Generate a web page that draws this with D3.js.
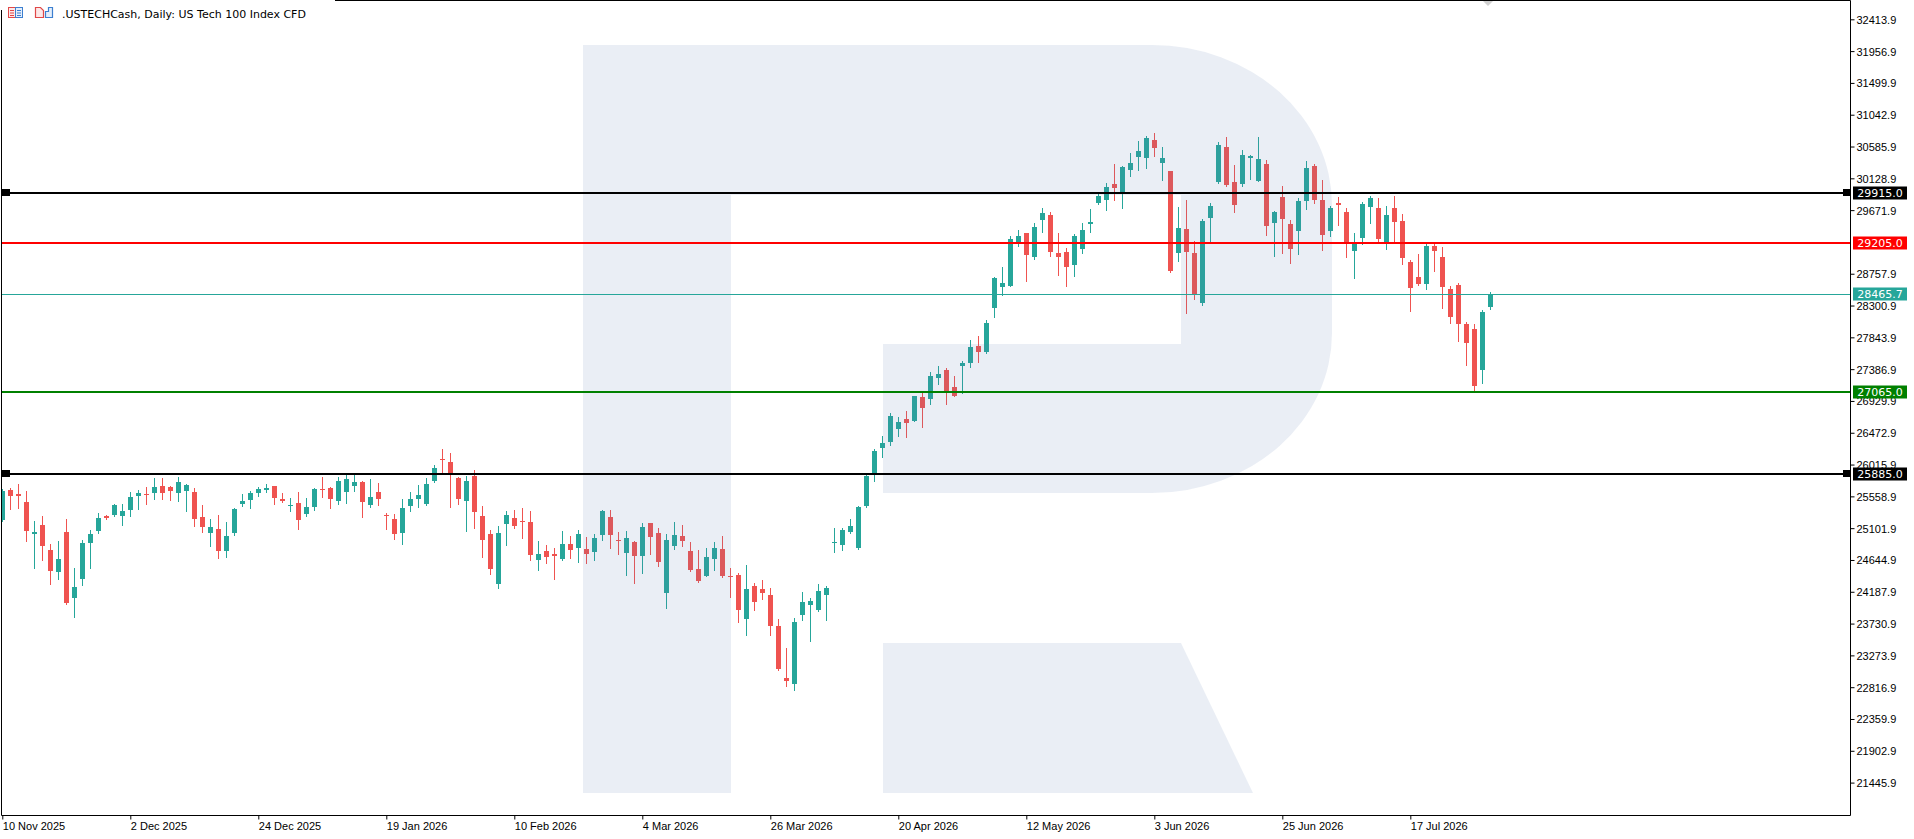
<!DOCTYPE html>
<html>
<head>
<meta charset="utf-8">
<script src="https://d3js.org/d3.v7.min.js"></script>
<style>
  html, body { margin: 0; padding: 0; background: #fff; overflow: hidden; }
  svg { display: block; font-family: "DejaVu Sans", sans-serif; }
  .axis text { font-size: 11px; fill: #000; }
  .axis line { stroke: #000; }
  .level-label { font-size: 11px; fill: #fff; }
  .chart-title { font-size: 11px; fill: #000; }
</style>
</head>
<body>
<svg id="chart"></svg>
<script>
// daily bars, oldest first (bar 0 sits under the left frame)
const opens = [
  25224, 25652, 25595, 25481, 25014, 25152, 24781, 24472, 25053, 24101,
  24372, 24886, 25057, 25281, 25286, 25271, 25357, 25571, 25595, 25614,
  25709, 25695, 25614, 25643, 25624, 25267, 25029, 25095, 24772, 25029,
  25443, 25510, 25610, 25657, 25710, 25524, 25424, 25467, 25300, 25400,
  25667, 25681, 25495, 25624, 25710, 25767, 25438, 25624, 25295, 25238,
  25038, 25424, 25524, 25452, 25781, 26095, 26052, 25824, 25495, 25852,
  25281, 25024, 24296, 25167, 25253, 25210, 25196, 24639, 24767, 24724,
  24653, 24881, 24824, 24796, 24753, 25010, 25267, 24939, 24739, 24896,
  24696, 25181, 25038, 24168, 24839, 24996, 24767, 24510, 24410, 24653,
  24796, 24410, 24425, 23796, 24268, 24224, 24139, 23696, 22954, 22868,
  23853, 23996, 23924, 24139, 24886, 24867, 25053, 24824, 25424, 25895,
  26252, 26338, 26523, 26666, 26637, 26980, 26951, 27265, 27379, 27137,
  27437, 27480, 27722, 27637, 28265, 28565, 28579, 29207, 29350, 28993,
  29535, 29607, 29050, 29064, 28879, 29107, 29478, 29778, 29821, 30049,
  29921, 30249, 30435, 30420, 30677, 30349, 30235, 29050, 29407, 29050,
  28336, 29564, 30078, 30577, 30078, 30049, 30420, 30092, 30335, 29492,
  29864, 29478, 29378, 29807, 30306, 29821, 29378, 29778, 29650, 29078,
  29278, 29721, 29707, 29221, 29707, 29521, 28921, 28707, 28607, 29150,
  28993, 28536, 28593, 28036, 27965, 27379, 28279
]
const highs = [
  25660, 25685, 25743, 25638, 25210, 25281, 24881, 24924, 25238, 24524,
  24938, 25081, 25324, 25290, 25448, 25452, 25624, 25652, 25695, 25823,
  25823, 25709, 25838, 25733, 25681, 25438, 25229, 25295, 25195, 25395,
  25595, 25629, 25695, 25738, 25710, 25610, 25538, 25624, 25538, 25681,
  25838, 25695, 25838, 25881, 25881, 25781, 25809, 25752, 25324, 25310,
  25524, 25624, 25724, 25824, 26009, 26238, 26181, 25838, 25852, 25938,
  25424, 25081, 25138, 25353, 25367, 25395, 25353, 24924, 24853, 24824,
  25067, 24996, 25081, 24981, 25024, 25367, 25367, 25053, 25067, 24924,
  25181, 25181, 25110, 25024, 25196, 25153, 24910, 24781, 24810, 24896,
  24996, 24525, 24453, 24567, 24310, 24353, 24239, 23796, 23382, 23810,
  24182, 24096, 24296, 24267, 25110, 25110, 25238, 25424, 25866, 26238,
  26423, 26751, 26694, 26780, 27008, 27037, 27351, 27437, 27408, 27294,
  27508, 27808, 27865, 28093, 28708, 28850, 29293, 29392, 29350, 29492,
  29707, 29650, 29350, 29121, 29335, 29492, 29692, 29935, 30063, 30335,
  30306, 30492, 30663, 30735, 30777, 30577, 30235, 29721, 29821, 29235,
  29550, 29778, 30649, 30720, 30320, 30535, 30459, 30720, 30392, 29664,
  30021, 29535, 29849, 30378, 30335, 30106, 29735, 29864, 29707, 29350,
  29792, 29878, 29849, 29735, 29878, 29621, 28950, 29036, 29193, 29193,
  29135, 28579, 28622, 28065, 28036, 28236, 28493
]
const lows = [
  25200, 25381, 25395, 24915, 24529, 24643, 24301, 24372, 24010, 23830,
  24286, 24529, 25038, 25229, 25271, 25143, 25271, 25371, 25443, 25524,
  25528, 25509, 25486, 25343, 25129, 25053, 24843, 24672, 24686, 25000,
  25414, 25395, 25571, 25624, 25452, 25481, 25353, 25086, 25272, 25357,
  25552, 25395, 25452, 25467, 25638, 25267, 25410, 25438, 25096, 24953,
  24881, 25353, 25410, 25438, 25767, 25895, 25410, 25452, 25067, 25110,
  24682, 24439, 24239, 24867, 25110, 24967, 24639, 24496, 24596, 24368,
  24639, 24667, 24610, 24596, 24639, 24939, 24810, 24724, 24425, 24310,
  24453, 24724, 24553, 23953, 24796, 24839, 24482, 24325, 24410, 24496,
  24396, 24110, 23753, 23568, 23925, 24082, 23568, 23068, 22840, 22782,
  23782, 23482, 23910, 23782, 24753, 24781, 25038, 24796, 25409, 25781,
  26123, 26295, 26423, 26409, 26637, 26552, 26880, 27180, 26880, 26994,
  27037, 27422, 27494, 27622, 28136, 28450, 28579, 29150, 28650, 28964,
  29364, 29007, 28736, 28579, 28722, 29050, 29364, 29764, 29678, 29821,
  29707, 30163, 30249, 30278, 30449, 30106, 28779, 28936, 28200, 28393,
  28308, 29207, 30063, 30021, 29650, 30021, 30121, 30092, 29321, 29007,
  29050, 28907, 29036, 29692, 29778, 29093, 29293, 29464, 28993, 28693,
  29178, 29493, 29207, 29107, 29221, 28893, 28222, 28593, 28536, 28793,
  28265, 28050, 27793, 27451, 27080, 27194, 28250
]
const closes = [
  25638, 25571, 25557, 25057, 25048, 24843, 24486, 24653, 24029, 24253,
  24895, 25024, 25252, 25243, 25438, 25352, 25552, 25609, 25586, 25695,
  25614, 25643, 25766, 25724, 25229, 25114, 25124, 24772, 24995, 25381,
  25495, 25610, 25662, 25681, 25538, 25495, 25438, 25215, 25410, 25667,
  25652, 25524, 25781, 25809, 25767, 25481, 25552, 25524, 25272, 25024,
  25395, 25524, 25581, 25738, 25966, 26081, 25895, 25524, 25781, 25338,
  24939, 24510, 25038, 25296, 25138, 25186, 24710, 24724, 24682, 24696,
  24881, 24782, 25024, 24724, 24967, 25353, 25010, 24924, 24967, 24696,
  25124, 24981, 24610, 24939, 25010, 24924, 24496, 24339, 24682, 24810,
  24410, 24396, 23925, 24225, 24039, 24172, 23696, 23082, 22911, 23753,
  24039, 24053, 24196, 24239, 24910, 25081, 25138, 25409, 25852, 26209,
  26323, 26708, 26623, 26609, 26994, 26823, 27294, 27322, 27080, 27008,
  27480, 27708, 27637, 28051, 28693, 28622, 29250, 29307, 29021, 29435,
  29635, 29064, 28993, 28850, 29293, 29392, 29507, 29878, 30006, 29992,
  30292, 30349, 30520, 30706, 30563, 30420, 28793, 29421, 29064, 28465,
  29521, 29735, 30606, 30035, 29750, 30463, 30449, 30406, 29450, 29650,
  29550, 29107, 29807, 30278, 29821, 29321, 29707, 29750, 29207, 29193,
  29764, 29850, 29250, 29607, 29507, 28979, 28550, 28607, 29150, 29078,
  28565, 28136, 28036, 27765, 27151, 28207, 28465.7
]

const dateLabels = ['10 Nov 2025', '2 Dec 2025', '24 Dec 2025', '19 Jan 2026', '10 Feb 2026', '4 Mar 2026',
  '26 Mar 2026', '20 Apr 2026', '12 May 2026', '3 Jun 2026', '25 Jun 2026', '17 Jul 2026']
const priceTicks = [32413.9, 31956.9, 31499.9, 31042.9, 30585.9, 30128.9, 29671.9, 29214.9, 28757.9,
  28300.9, 27843.9, 27386.9, 26929.9, 26472.9, 26015.9, 25558.9, 25101.9, 24644.9, 24187.9,
  23730.9, 23273.9, 22816.9, 22359.9, 21902.9, 21445.9]
const levelValues = [29915.0, 29205.0, 27065.0, 25885.0]
const bidPrice = 28465.7
const titleText = '.USTECHCash, Daily:  US Tech 100 Index CFD'

class CandleChart {

    constructor(defaultConfig) {
        this.config = {
            parentElement: defaultConfig.parentElement,
            containerWidth: defaultConfig.containerWidth || 1914,
            containerHeight: defaultConfig.containerHeight || 839,
            plotRight: 1850,
            plotBottom: 815,
            barsVisible: 230.96,
            upColor: '#26a69a',
            downColor: '#ef5350',
            levelColors: ['#000000', '#ff0000', '#008000', '#000000'],
            levelMarkers: [true, false, false, true]
        }
        this.initVis()
    }

    initVis() {
        let vis = this
        let cfg = vis.config

        vis.bars = opens.map((o, i) => ({i: i, o: o, h: highs[i], l: lows[i], c: closes[i]}))

        vis.xScale = d3.scaleLinear()
            .domain([0, cfg.barsVisible])
            .range([2.3, cfg.plotRight])

        // calibrated against the two end labels of the price scale
        vis.yScale = d3.scaleLinear()
            .domain([priceTicks[priceTicks.length - 1], priceTicks[0]])
            .range([782.6, 19.3])

        vis.svg = d3.select(vis.config.parentElement)
            .attr('width', cfg.containerWidth)
            .attr('height', cfg.containerHeight)

        vis.svg.append('defs').append('clipPath')
            .attr('id', 'plot-clip')
            .append('rect')
            .attr('x', 2).attr('y', 1)
            .attr('width', cfg.plotRight - 2).attr('height', cfg.plotBottom - 1)

        vis.chart = vis.svg.append('g').attr('clip-path', 'url(#plot-clip)')

        vis.candleG = vis.chart.append('g').attr('class', 'candles')
        vis.logoG = vis.chart.append('g').attr('class', 'logo')
        vis.levelG = vis.chart.append('g').attr('class', 'levels')

        vis.tagValues = levelValues.concat([bidPrice])

        // a tick label sitting right under a price tag is hidden by it
        vis.yAxis = d3.axisRight(vis.yScale)
            .tickValues(priceTicks.filter(t => !vis.tagValues.some(v => Math.abs(vis.yScale(v) - vis.yScale(t)) < 3)))
            .tickSize(4)
            .tickPadding(2)
            .tickFormat(d3.format('.1f'))

        vis.xAxis = d3.axisBottom(vis.xScale)
            .tickValues(dateLabels.map((d, i) => i * 16))
            .tickSize(4)
            .tickPadding(3)
            .tickFormat((d, i) => dateLabels[i])

        vis.yAxisG = vis.svg.append('g')
            .attr('class', 'axis y-axis')
            .attr('transform', `translate(${cfg.plotRight + 0.5},0)`)

        vis.xAxisG = vis.svg.append('g')
            .attr('class', 'axis x-axis')
            .attr('transform', `translate(0,${cfg.plotBottom + 0.5})`)

        vis.labelG = vis.svg.append('g').attr('class', 'level-labels')
    }

    updateVis() {
        let vis = this
        vis.yPx = v => Math.round(vis.yScale(v))
        vis.xPx = i => Math.round(vis.xScale(i))
        vis.renderVis()
    }

    renderVis() {
        let vis = this
        let cfg = vis.config

        // candles
        let candle = vis.candleG.selectAll('.candle')
            .data(vis.bars)
            .join('g')
            .attr('class', 'candle')
            .attr('fill', d => d.c >= d.o ? cfg.upColor : cfg.downColor)
            .attr('stroke', d => d.c >= d.o ? cfg.upColor : cfg.downColor)

        candle.append('line')
            .attr('x1', d => vis.xPx(d.i) + 0.5)
            .attr('x2', d => vis.xPx(d.i) + 0.5)
            .attr('y1', d => vis.yPx(d.h))
            .attr('y2', d => vis.yPx(d.l) + 1)
            .attr('stroke-width', 1)

        candle.append('rect')
            .attr('stroke', 'none')
            .attr('x', d => vis.xPx(d.i) - 2)
            .attr('width', 5)
            .attr('y', d => vis.yPx(Math.max(d.o, d.c)))
            .attr('height', d => Math.max(1, vis.yPx(Math.min(d.o, d.c)) - vis.yPx(Math.max(d.o, d.c))))

        // watermark, drawn translucent over the bars
        vis.logoG.attr('fill', '#5b7fb5').attr('fill-opacity', 0.13)
        vis.logoG.append('rect')
            .attr('x', 583).attr('y', 45).attr('width', 148).attr('height', 748)
        vis.logoG.append('path')
            .attr('d', 'M731,45 H1152 A180,160 0 0 1 1332,205 V333 A180,160 0 0 1 1152,493 H883 V344 H1181 V195 H731 Z')
        vis.logoG.append('path')
            .attr('d', 'M883,643 H1181 L1253,793 H883 Z')

        // bid line
        vis.levelG.append('line')
            .attr('x1', 2).attr('x2', cfg.plotRight)
            .attr('y1', vis.yPx(bidPrice) + 0.5).attr('y2', vis.yPx(bidPrice) + 0.5)
            .attr('stroke', cfg.upColor).attr('stroke-width', 1)

        // horizontal levels
        vis.levelG.selectAll('.level')
            .data(levelValues)
            .join('line')
            .attr('class', 'level')
            .attr('x1', 2).attr('x2', cfg.plotRight)
            .attr('y1', d => vis.yPx(d)).attr('y2', d => vis.yPx(d))
            .attr('stroke', (d, i) => cfg.levelColors[i])
            .attr('stroke-width', 2)

        let marked = levelValues.filter((d, i) => cfg.levelMarkers[i])
        vis.levelG.selectAll('.marker-left')
            .data(marked)
            .join('rect')
            .attr('class', 'marker-left')
            .attr('x', 2).attr('y', d => vis.yPx(d) - 4)
            .attr('width', 8).attr('height', 7)
        vis.levelG.selectAll('.marker-right')
            .data(marked)
            .join('rect')
            .attr('class', 'marker-right')
            .attr('x', cfg.plotRight - 7).attr('y', d => vis.yPx(d) - 4)
            .attr('width', 7).attr('height', 7)

        // axes
        vis.yAxisG.call(vis.yAxis)
        vis.yAxisG.select('.domain').remove()
        vis.yAxisG.selectAll('text').attr('dy', '0.36em')

        vis.xAxisG.call(vis.xAxis)
        vis.xAxisG.select('.domain').remove()
        vis.xAxisG.selectAll('text').attr('text-anchor', 'start').attr('x', 0)

        // frame
        vis.svg.append('path')
            .attr('fill', 'none')
            .attr('stroke', '#000')
            .attr('stroke-width', 1)
            .attr('d', `M1.5,${cfg.plotBottom + 0.5} V0.5 H${cfg.plotRight + 0.5} V${cfg.plotBottom + 0.5} H1.5`)

        // price tags on the scale
        let tags = levelValues.map((v, i) => ({v: v, color: cfg.levelColors[i]}))
        tags.push({v: bidPrice, color: cfg.upColor})
        let tag = vis.labelG.selectAll('.tag')
            .data(tags)
            .join('g')
            .attr('class', 'tag')
            .attr('transform', d => `translate(${cfg.plotRight + 3},${vis.yPx(d.v)})`)
        tag.append('rect')
            .attr('x', 0).attr('y', -6.5)
            .attr('width', 54).attr('height', 13)
            .attr('fill', d => d.color)
        tag.append('text')
            .attr('class', 'level-label')
            .attr('x', 27).attr('dy', '0.36em')
            .attr('text-anchor', 'middle')
            .text(d => d3.format('.1f')(d.v))

        // title block covers the frame at the top left
        vis.svg.append('rect')
            .attr('x', 0).attr('y', 0).attr('width', 335).attr('height', 10)
            .attr('fill', '#fff')

        let icons = vis.svg.append('g').attr('class', 'icons')
        icons.append('rect').attr('x', 8.5).attr('y', 7.5).attr('width', 7).attr('height', 10)
            .attr('fill', '#fde8e8').attr('stroke', '#e04848')
        icons.append('rect').attr('x', 15.5).attr('y', 7.5).attr('width', 7).attr('height', 10)
            .attr('fill', '#e4eefa').attr('stroke', '#3c7fd0')
        icons.selectAll('.row-red')
            .data([10.5, 13, 15.5])
            .join('path')
            .attr('class', 'row-red')
            .attr('d', d => `M10,${d} H14`)
            .attr('stroke', '#e04848')
        icons.selectAll('.row-blue')
            .data([10.5, 13, 15.5])
            .join('path')
            .attr('class', 'row-blue')
            .attr('d', d => `M17,${d} H21`)
            .attr('stroke', '#3c7fd0')
        icons.append('path')
            .attr('d', 'M35.5,17.5 V7.5 H40.5 L43.5,10.5 V17.5 Z')
            .attr('fill', '#fde8e8').attr('stroke', '#e04848').attr('stroke-width', 1.2)
        icons.append('path')
            .attr('d', 'M45.5,17.5 V11.5 H48.5 V7.5 H52.5 V17.5 Z')
            .attr('fill', '#e4eefa').attr('stroke', '#3c7fd0').attr('stroke-width', 1.2)

        vis.svg.append('text')
            .attr('class', 'chart-title')
            .attr('x', 62)
            .attr('y', 18)
            .text(titleText)

        // chart shift marker
        vis.svg.append('path')
            .attr('d', 'M1483,1 H1493 L1488,6 Z')
            .attr('fill', '#d0d0d0')
    }
}

let chart = new CandleChart({parentElement: '#chart'})
chart.updateVis()
</script>
</body>
</html>
